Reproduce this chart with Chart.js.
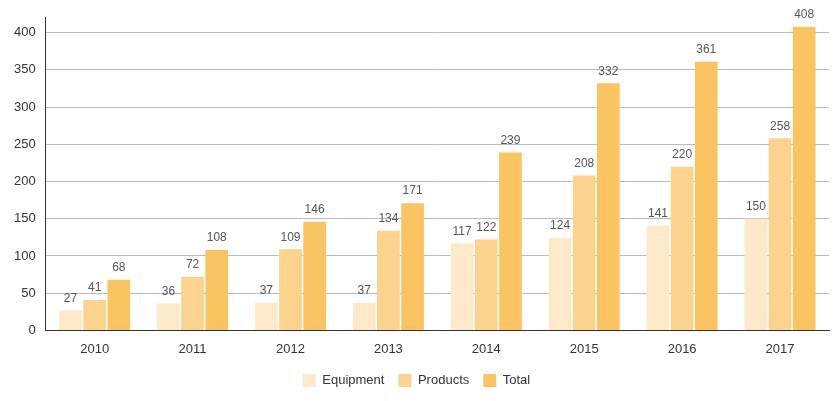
<!DOCTYPE html>
<html>
<head>
<meta charset="utf-8">
<script src="https://cdn.jsdelivr.net/npm/chart.js@4"></script>
<style>
  body { margin: 0; background: #fff; }
  #wrap { width: 835px; height: 401px; }
</style>
</head>
<body>
<div id="wrap"><canvas id="chart"></canvas></div>
<script>
// 데이터
const years = ['2010', '2011', '2012', '2013', '2014', '2015', '2016', '2017'];
const equipment = [27, 36, 37, 37, 117, 124, 141, 150];
const products = [41, 72, 109, 134, 122, 208, 220, 258];
const total = [68, 108, 146, 171, 239, 332, 361, 408];
const yTicks = [0, 50, 100, 150, 200, 250, 300, 350, 400];

/*
 * 막대 위 값 표시 플러그인
 */
const valueLabels = {
    id: 'valueLabels',
    afterDatasetsDraw(chart) {
        const ctx = chart.ctx;
        ctx.save();
        ctx.font = '12px Arial, "Liberation Sans", sans-serif';
        ctx.fillStyle = '#555';
        ctx.textAlign = 'center';
        ctx.textBaseline = 'bottom';
        chart.data.datasets.forEach((ds, i) => {
            chart.getDatasetMeta(i).data.forEach((bar, j) => {
                ctx.fillText(ds.data[j], bar.x, bar.y - 6);
            });
        });
        ctx.restore();
    }
};

document.addEventListener("DOMContentLoaded", function() {
    const ctx = document.getElementById('chart').getContext('2d');
    new Chart(ctx, {
        type: 'bar',
        data: {
            labels: years,
            datasets: [
                { label: 'Equipment', data: equipment, backgroundColor: '#fde9c9' },
                { label: 'Products', data: products, backgroundColor: '#fcd38e' },
                { label: 'Total', data: total, backgroundColor: '#fbc462' }
            ]
        },
        options: {
            animation: false,
            responsive: true,
            maintainAspectRatio: false,
            layout: { padding: { top: 14, right: 6, left: 4, bottom: 4 } },
            datasets: { bar: { categoryPercentage: 0.74, barPercentage: 0.94 } },
            plugins: {
                tooltip: { enabled: false },
                legend: {
                    position: 'bottom',
                    labels: {
                        boxWidth: 13, boxHeight: 13, padding: 14,
                        color: '#333',
                        font: { size: 13, family: 'Arial, "Liberation Sans", sans-serif' }
                    }
                }
            },
            scales: {
                x: {
                    grid: { display: false },
                    border: { color: '#333' },
                    ticks: { color: '#333', font: { size: 13, family: 'Arial, "Liberation Sans", sans-serif' } }
                },
                y: {
                    min: 0, max: 420,
                    afterBuildTicks: axis => { axis.ticks = yTicks.map(v => ({ value: v })); },
                    grid: { color: '#bbb', drawTicks: false },
                    border: { color: '#333' },
                    ticks: { color: '#333', padding: 10, font: { size: 13, family: 'Arial, "Liberation Sans", sans-serif' } }
                }
            }
        },
        plugins: [valueLabels]
    });
});
</script>
</body>
</html>
